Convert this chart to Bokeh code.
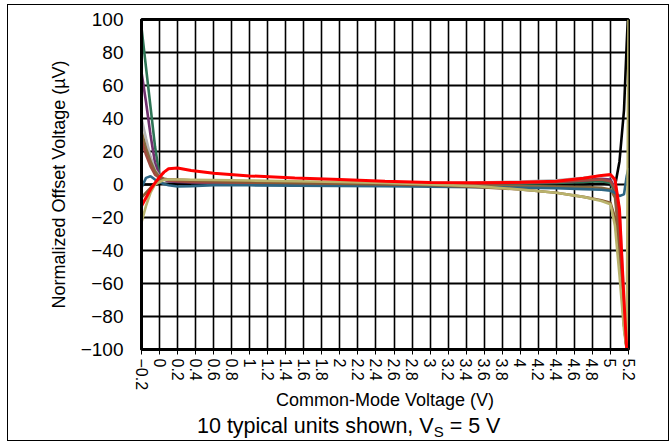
from bokeh.plotting import figure
from bokeh.models import FixedTicker, Range1d, Div
from bokeh.layouts import column
from bokeh.embed import file_html
from bokeh.resources import INLINE

# ---- data ----
vcm = [-0.2, -0.15, -0.1, -0.05, 0.0, 0.05, 0.1, 0.2, 0.35, 0.6, 1.0, 1.5, 2.0, 2.5,
       3.0, 3.5, 4.0, 4.4, 4.7, 4.9, 5.0, 5.05, 5.1, 5.15, 5.18, 5.2]

unit_black  = [0, 0, 0, 0, 0.5, 0.5, 0.5, 0.5, 0.5, 0.3, 0.2, 0, 0, 0, 0, 0, 0, 0, 0, 0.5, 0, -1, 14, 45, 85, 110]
unit_green  = [95, 71, 47, 23, 5, 3, 2.5, 2, 1.8, 1.5, 1.2, 1, 0.8, 0.5, 0.3, 0.3, 0.5, 1, 1.5, 2, 1, -5, -30, -80, -100, -100]
unit_purple = [68, 50, 30, 13, 5, 3, 2, 1.5, 1.2, 1, 0.8, 0.6, 0.5, 0.3, 0.2, 0.5, 1, 1.5, 2.5, 3.5, 3, -2, -25, -80, -100, -100]
unit_gray   = [40, 28, 17, 9, 5, 3.5, 3, 2.5, 2.2, 2, 1.8, 1.5, 1.3, 1, 1, 1.2, 1.8, 2.5, 4, 5.5, 5.5, 2, -15, -70, -100, -100]
unit_olive  = [32, 22, 14, 8, 4.5, 3.5, 3, 2.8, 2.6, 2.4, 2, 1.5, 1, 0.5, 0, -0.5, -1, -1.3, -1.5, -2, -3, -8, -35, -85, -100, -100]
unit_rust   = [27, 18, 11, 6, 4, 3, 2.5, 2, 1.5, 1.2, 0.8, 0.5, 0.3, 0.2, 0.2, 0.5, 1, 1.5, 2.5, 3, 2, -3, -25, -80, -100, -100]
unit_blue   = [-2, 4, 5, 3, 1.5, 0.3, -0.5, -1.2, -1, -0.4, -0.5, -0.7, -0.9, -1.1, -1.3, -1.6, -2, -2.3, -2.8, -3.2, -3.8, -5, -7, -6, 5, 10]
unit_brown  = [-8, -5, -2, 0.5, 2.5, 3, 3, 2.8, 2.5, 2, 1.5, 1, 0.5, 0, -0.5, -1.5, -3, -5, -7.5, -9.5, -11, -20, -45, -85, -100, -100]
unit_khaki  = [-23, -13, -5, 0, 1.5, 2.8, 3, 3, 2.9, 2.7, 2.4, 2, 1.5, 1, 0, -1, -3, -5, -7.5, -10, -12, -25, -55, -88, -100, 100]
unit_red    = [-13, -8, -3, 1, 4.5, 7.5, 9.5, 10, 8.5, 6.8, 5.2, 4, 3, 2, 1.2, 1, 1.3, 2, 3.8, 5.5, 6, 3, -15, -70, -100, -100]

x_ticks = [-0.2, 0, 0.2, 0.4, 0.6, 0.8, 1, 1.2, 1.4, 1.6, 1.8, 2, 2.2, 2.4, 2.6, 2.8, 3,
           3.2, 3.4, 3.6, 3.8, 4, 4.2, 4.4, 4.6, 4.8, 5, 5.2]
x_tick_labels = ["\u22120.2", "0", "0.2", "0.4", "0.6", "0.8", "1", "1.2", "1.4", "1.6", "1.8",
                 "2", "2.2", "2.4", "2.6", "2.8", "3", "3.2", "3.4", "3.6", "3.8", "4", "4.2",
                 "4.4", "4.6", "4.8", "5", "5.2"]
y_ticks = [-100, -80, -60, -40, -20, 0, 20, 40, 60, 80, 100]
y_tick_labels = ["\u2212100", "\u221280", "\u221260", "\u221240", "\u221220", "0", "20", "40", "60", "80", "100"]

caption_html = ('10 typical units shown, V<span style="font-size:15px;position:relative;top:4px;'
                'line-height:0">S</span> = 5 V')

series = [
    (unit_black, "#000000"),
    (unit_green, "#2E7455"),
    (unit_purple, "#70306E"),
    (unit_gray, "#B4B4B4"),
    (unit_olive, "#86693C"),
    (unit_rust, "#A04A3E"),
    (unit_blue, "#2C6583"),
    (unit_brown, "#8A5A32"),
    (unit_khaki, "#B9B36C"),
    (unit_red, "#FF0000"),
]

FONT = "Liberation Sans"

p = figure(width=660, height=410, output_backend="svg", toolbar_location=None,
           x_range=Range1d(-0.2, 5.2), y_range=Range1d(-100, 100),
           min_border_left=133, min_border_right=40, min_border_top=14, min_border_bottom=66)
p.background_fill_color = "white"
p.border_fill_color = "white"
p.outline_line_color = "black"
p.outline_line_width = 3

for ys, c in series:
    p.line(vcm, ys, line_color=c, line_width=3 if c == "#FF0000" else 2.6)

p.xaxis.ticker = FixedTicker(ticks=x_ticks)
p.yaxis.ticker = FixedTicker(ticks=y_ticks)
p.xaxis.major_label_overrides = {t: l for t, l in zip(x_ticks, x_tick_labels)}
p.yaxis.major_label_overrides = {t: l for t, l in zip(y_ticks, y_tick_labels)}
p.xaxis.major_label_orientation = "vertical"

p.xgrid.ticker = FixedTicker(ticks=x_ticks)
p.ygrid.ticker = FixedTicker(ticks=y_ticks)
p.xgrid.grid_line_color = "black"
p.xgrid.grid_line_width = 1.6
p.ygrid.grid_line_color = "black"
p.ygrid.grid_line_width = 2

for ax in (p.xaxis[0], p.yaxis[0]):
    ax.axis_line_color = "black"
    ax.axis_line_width = 3
    ax.minor_tick_line_color = None
    ax.major_label_text_font = FONT
    ax.major_label_text_color = "black"
    ax.axis_label_text_font = FONT
    ax.axis_label_text_font_style = "normal"
    ax.axis_label_text_color = "black"

p.xaxis.major_tick_out = 5
p.xaxis.major_tick_in = 0
p.xaxis.major_tick_line_width = 1
p.xaxis.major_label_standoff = 4
p.xaxis.major_label_text_font_size = "16px"
p.xaxis.axis_label = "Common-Mode Voltage (V)"
p.xaxis.axis_label_text_font_size = "18px"
p.xaxis.axis_label_standoff = -3

p.yaxis.major_tick_out = 0
p.yaxis.major_tick_in = 0
p.yaxis.major_label_standoff = 18
p.yaxis.major_label_text_font_size = "19px"
p.yaxis.axis_label = "Normalized Offset Voltage (\u00b5V)"
p.yaxis.axis_label_text_font_size = "18px"
p.yaxis.axis_label_standoff = 9

caption = Div(text=caption_html, width=660, height=25, margin=0,
              styles={"font-family": FONT, "font-size": "21.5px", "line-height": "22px",
                      "color": "black", "padding-left": "189px", "box-sizing": "border-box",
                      "margin": "0", "padding-top": "0"})

layout = column(p, caption, spacing=0,
                styles={"margin-left": "7px", "margin-top": "4px",
                        "border": "1px solid black", "background": "white"})

open("out.html", "w").write(file_html(layout, INLINE))
